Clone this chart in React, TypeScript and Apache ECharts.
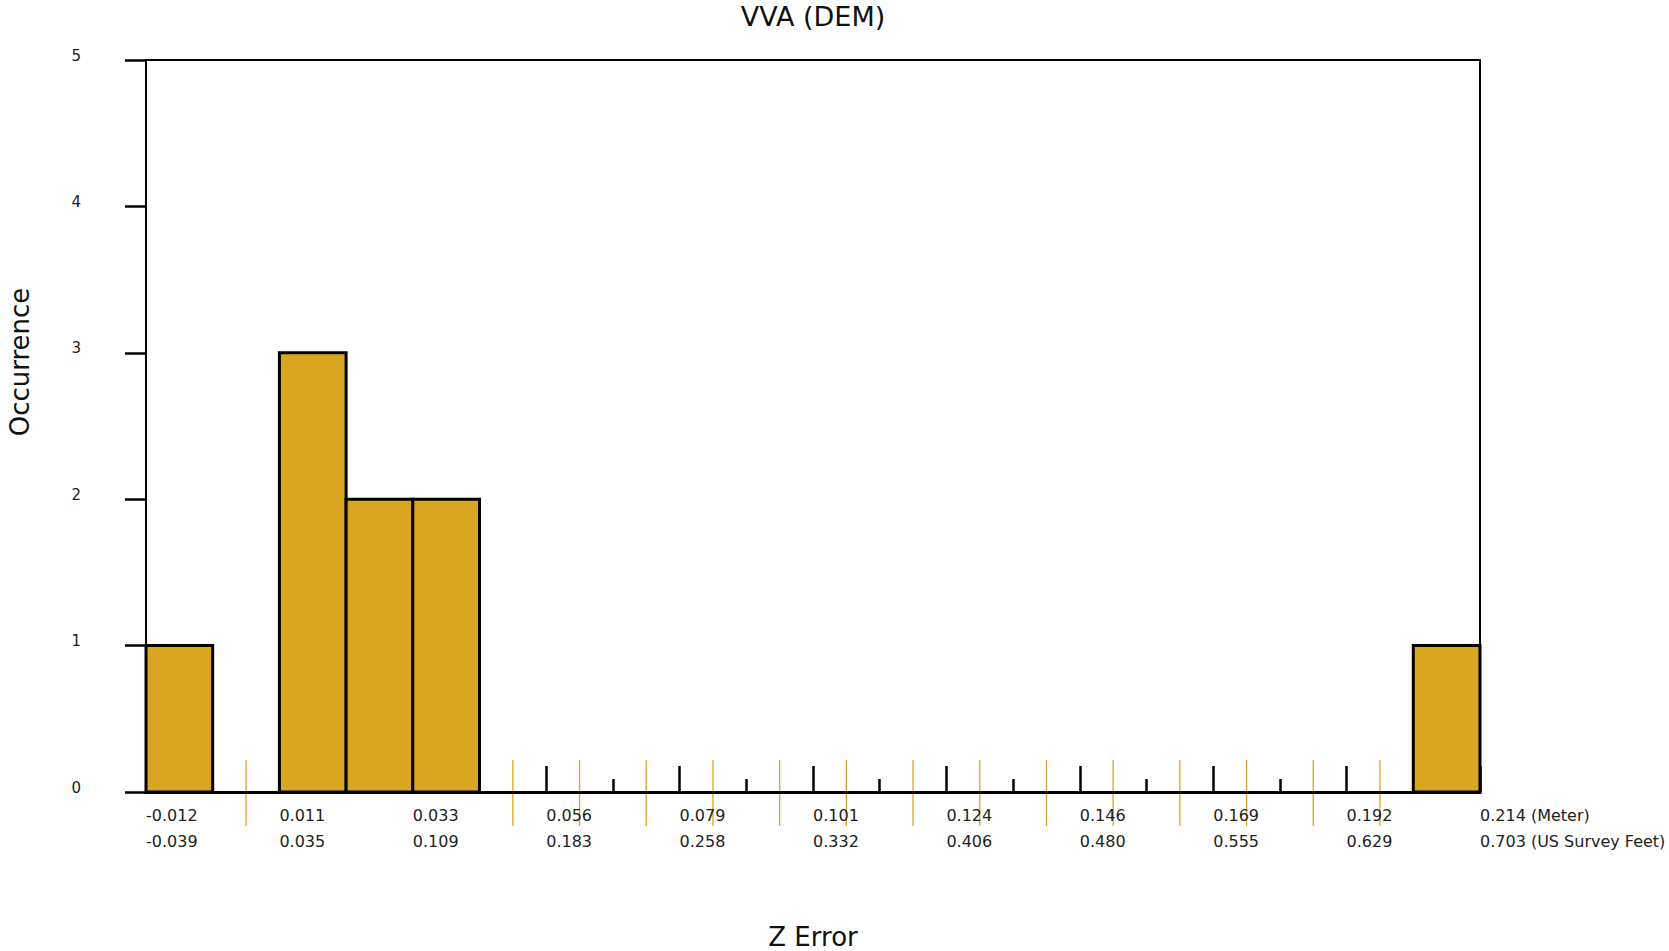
import React, { useEffect, useRef } from "react";
import * as echarts from "echarts";

// Histogram of Z error, 20 bins
const binCounts = [1, 0, 3, 2, 2, 0, 0, 0, 0, 0, 0, 0, 0, 0, 0, 0, 0, 0, 0, 1];
// Labels at every second bin edge
const meterLabels = ["-0.012", "0.011", "0.033", "0.056", "0.079", "0.101", "0.124", "0.146", "0.169", "0.192", "0.214"];
const feetLabels = ["-0.039", "0.035", "0.109", "0.183", "0.258", "0.332", "0.406", "0.480", "0.555", "0.629", "0.703"];
const meterUnit = "(Meter)";
const feetUnit = "(US Survey Feet)";
const yMax = 5;

const FONT = "DejaVu Sans";
const GOLD = "#DAA520";

export default function App() {
  const ref = useRef<HTMLDivElement>(null);

  useEffect(() => {
    if (!ref.current) return;
    const chart = echarts.init(ref.current, null, { renderer: "svg" });
    const nBins = binCounts.length;

    const barData = binCounts.map((c, i) => [i, c]);
    const emptyData = binCounts
      .map((c, i) => (c === 0 ? [i + 0.5, 0] : null))
      .filter((d) => d !== null);

    chart.setOption({
      animation: false,
      backgroundColor: "#fff",
      title: {
        text: "VVA (DEM)",
        left: 808,
        top: -2,
        textAlign: "center",
        textStyle: { fontSize: 27, fontWeight: "normal", fontFamily: FONT, color: "#111" },
      },
      grid: {
        left: 146,
        right: 189,
        top: 60,
        bottom: 159,
        show: true,
        borderColor: "#000",
        borderWidth: 2,
        backgroundColor: "transparent",
        containLabel: false,
        outerBoundsMode: "none",
      },
      xAxis: {
        type: "value",
        min: 0,
        max: nBins,
        interval: 2,
        name: "Z Error",
        nameLocation: "middle",
        nameGap: 132,
        nameTextStyle: { fontSize: 26, fontFamily: FONT, color: "#111" },
        axisLine: { show: true, onZero: false, lineStyle: { color: "#000", width: 3 } },
        axisTick: { show: true, inside: true, length: 26, lineStyle: { color: "#000", width: 2.5 } },
        minorTick: { show: true, splitNumber: 2, length: 13, lineStyle: { color: "#000", width: 2.5 } },
        splitLine: { show: false },
        minorSplitLine: { show: false },
        axisLabel: {
          show: true,
          align: "left",
          margin: 10,
          fontSize: 16,
          lineHeight: 26,
          fontFamily: FONT,
          color: "#222",
          showMinLabel: true,
          showMaxLabel: true,
          formatter: (v: number) => {
            const i = Math.round(v / 2);
            const last = i === meterLabels.length - 1;
            const m = meterLabels[i] + (last ? " " + meterUnit : "");
            const f = feetLabels[i] + (last ? " " + feetUnit : "");
            return m + "\n" + f;
          },
        },
      },
      yAxis: {
        type: "value",
        min: 0,
        max: yMax,
        interval: 1,
        name: "Occurrence",
        nameLocation: "middle",
        nameRotate: 90,
        nameGap: 113,
        nameTextStyle: { fontSize: 26, fontFamily: FONT, color: "#111", padding: [0, 0, 0, 128] },
        axisLine: { show: true, lineStyle: { color: "#000", width: 2 } },
        axisTick: { show: true, inside: false, length: 21, lineStyle: { color: "#000", width: 2.5 } },
        splitLine: { show: false },
        axisLabel: {
          show: true,
          margin: 65,
          fontSize: 15,
          lineHeight: 9,
          verticalAlign: "bottom",
          fontFamily: FONT,
          color: "#222",
        },
      },
      series: [
        {
          type: "custom",
          z: -1,
          clip: false,
          data: emptyData,
          renderItem: (params: any, api: any) => {
            const p = api.coord([api.value(0), 0]);
            return {
              type: "line",
              shape: { x1: p[0], y1: p[1] - 32, x2: p[0], y2: p[1] + 34 },
              style: { stroke: GOLD, lineWidth: 1.3 },
            };
          },
        },
        {
          type: "custom",
          z: 3,
          clip: false,
          data: barData,
          renderItem: (params: any, api: any) => {
            const k = api.value(0);
            const c = api.value(1);
            if (!c) return null;
            const tl = api.coord([k, c]);
            const br = api.coord([k + 1, 0]);
            return {
              type: "rect",
              shape: { x: tl[0], y: tl[1], width: br[0] - tl[0], height: br[1] - tl[1] },
              style: { fill: GOLD, stroke: "#000", lineWidth: 3 },
            };
          },
        },
      ],
    });

    return () => chart.dispose();
  }, []);

  return (
    <div
      ref={ref}
      style={{ position: "fixed", left: 0, top: 0, width: 1669, height: 951, background: "#fff" }}
    />
  );
}
